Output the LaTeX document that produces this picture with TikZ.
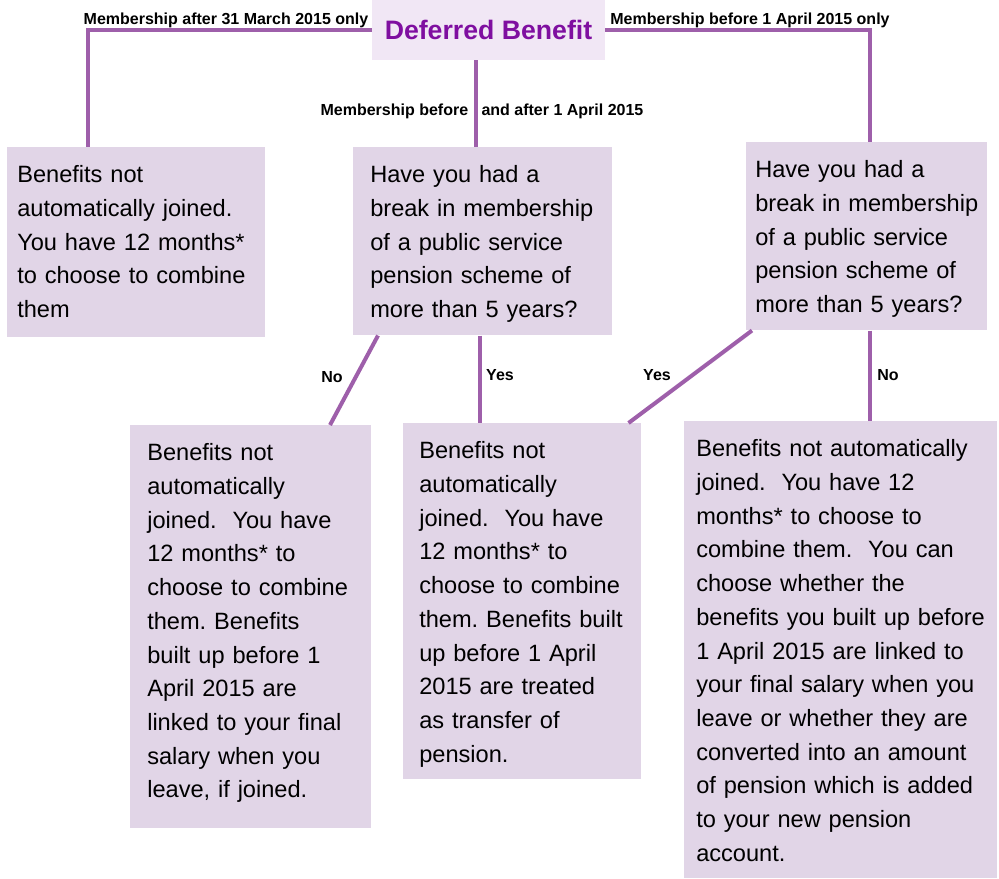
\documentclass[tikz,border=0pt]{standalone}
\usepackage{fontspec}
\setmainfont{Liberation Sans}
\usetikzlibrary{positioning,calc}
\definecolor{boxfill}{HTML}{E1D5E7}
\definecolor{titlefill}{HTML}{F1E7F5}
\definecolor{titletext}{HTML}{7F0FA0}
\definecolor{linkcol}{HTML}{9E5FAA}
\tikzset{
  answer/.style={fill=boxfill, anchor=north west, align=left, inner ysep=0pt,
    text height=26.5pt, font=\fontsize{17.7}{25.3}\selectfont\frenchspacing},
  heading/.style={fill=titlefill, minimum width=174.75pt, minimum height=45pt,
    text=titletext, font=\bfseries\fontsize{20}{24}\selectfont},
  tag/.style={font=\bfseries\fontsize{12}{14}\selectfont, inner sep=0pt},
  link/.style={draw=linkcol, line width=3pt}
}
\begin{document}
\begin{tikzpicture}[x=0.75pt, y=-0.75pt]
\useasboundingbox (0,0) rectangle (999,878);

           \node[heading] (title) at (488.5,30) {Deferred Benefit};

           \node[answer, text width=178.5pt, inner xsep=7.5pt, text depth=116pt] (b1) at (7,147)
             {Benefits not\\automatically joined.\\You have 12 months*\\to choose to combine\\them};
           \node[answer, text width=168.75pt, inner xsep=12.75pt, text depth=114.5pt] (q1) at (353,147)
             {Have you had a\\break in membership\\of a public service\\pension scheme of\\more than 5 years?};
           \node[answer, text width=167.25pt, inner xsep=6.75pt, text depth=114.5pt] (q2) at (746,142)
             {Have you had a\\break in membership\\of a public service\\pension scheme of\\more than 5 years?};

           \node[answer, text width=155.25pt, inner xsep=12.75pt, text depth=275.75pt] (r1) at (130,425)
             {Benefits not\\automatically\\joined.\ \ You have\\12 months* to\\choose to combine\\them. Benefits\\built up before 1\\April 2015 are\\linked to your final\\salary when you\\leave, if joined.};
           \node[answer, text width=154.5pt, inner xsep=12pt, text depth=240.5pt] (r2) at (403,423)
             {Benefits not\\automatically\\joined.\ \ You have\\12 months* to\\choose to combine\\them. Benefits built\\up before 1 April\\2015 are treated\\as transfer of\\pension.};
           \node[answer, text width=216.75pt, inner xsep=9pt, text depth=316.25pt] (r3) at (684,421)
             {Benefits not automatically\\joined.\ \ You have 12\\months* to choose to\\combine them.\ \ You can\\choose whether the\\benefits you built up before\\1 April 2015 are linked to\\your final salary when you\\leave or whether they are\\converted into an amount\\of pension which is added\\to your new pension\\account.};

           \draw[link] (title.west) -| ($(b1.north west)+(81,0)$);
           \draw[link] (title.east) -| ($(q2.north west)+(124,0)$);
           \draw[link] ($(title.south)+(-12.5,0)$) -- ($(q1.north west)+(123,0)$);
           \draw[link] ($(q1.south west)+(25,0)$) -- ($(r1.north west)+(200,0)$);
           \draw[link] ($(q1.south west)+(127,0)$) -- ($(r2.north west)+(77,0)$);
           \draw[link] ($(q2.south west)+(6,0)$) -- ($(r2.north east)+(-13,0)$);
           \draw[link] ($(q2.south west)+(124,0)$) -- ($(r3.north west)+(186,0)$);

           \node[tag] (after) at (226,20) {Membership after 31 March 2015 only};
           \node[tag] (before) at (750,20) {Membership before 1 April 2015 only};
           \node[tag] (both) at (482,111) {Membership before\ \ \ and after 1 April 2015};
           \node[tag] (no1) at (332,377) {No};
           \node[tag] (yes1) at (500,375) {Yes};
           \node[tag] (yes2) at (657,375) {Yes};
           \node[tag] (no2) at (888,375) {No};

\end{tikzpicture}
\end{document}
